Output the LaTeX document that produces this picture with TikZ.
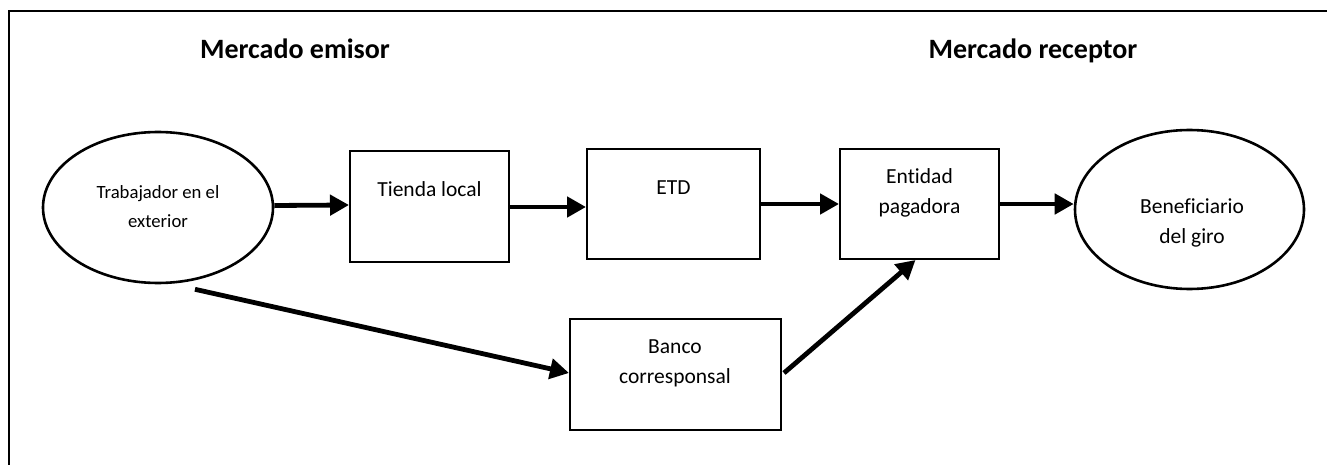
\documentclass[tikz,border=0pt]{standalone}
\usepackage{fontspec}
\setmainfont{Carlito}[Ligatures=NoCommon]
\usetikzlibrary{arrows.meta,calc,shapes.geometric}
\begin{document}
\begin{tikzpicture}[x=1pt,y=-1pt,
  stepbox/.style={draw,line width=2pt,inner sep=0pt,rectangle},
  oval/.style={draw,line width=2.6pt,inner sep=0pt,ellipse},
  flow/.style={line width=4.8pt,-{Triangle[length=19pt,width=20pt]}},
  txt/.style={anchor=base,inner sep=0pt,font=\fontsize{21.5}{26}\selectfont},
  smalltxt/.style={anchor=base,inner sep=0pt,font=\fontsize{18.7}{23}\selectfont},
  title/.style={anchor=base,inner sep=0pt,font=\fontsize{28}{32}\selectfont\bfseries}]
\useasboundingbox (0,0) rectangle (1327,465);
% frame
\draw[line width=2.5pt] (9,466) -- (9,11) -- (1328,11);
% titles
\node[title] (t1) at (295,59) {Mercado emisor};
\node[title] (t2) at (1033,59) {Mercado receptor};
% shapes
\node[oval,minimum width=230pt,minimum height=151pt] (e1) at (158,207.5) {};
\node[stepbox,minimum width=159pt,minimum height=111pt] (tienda) at (429.5,206.5) {};
\node[stepbox,minimum width=173pt,minimum height=110pt] (etd) at (673.5,204) {};
\node[stepbox,minimum width=159pt,minimum height=110pt] (entidad) at (919.5,204) {};
\node[stepbox,minimum width=211pt,minimum height=111pt] (banco) at (675.5,374.5) {};
\node[oval,minimum width=229pt,minimum height=159pt] (e2) at (1189.5,209.5) {};
% labels
\node[smalltxt] (l1a) at (158,199) {Trabajador en el};
\node[smalltxt] (l1b) at (158,227) {exterior};
\node[txt] (l2) at (429.5,196.7) {Tienda local};
\node[txt] (l3) at (673.5,195) {ETD};
\node[txt] (l4a) at (919.5,184) {Entidad};
\node[txt] (l4b) at (919.5,214) {pagadora};
\node[txt] (l5a) at (1192,213) {Beneficiario};
\node[txt] (l5b) at (1192,243) {del giro};
\node[txt] (l6a) at (675,353) {Banco};
\node[txt] (l6b) at (675,383) {corresponsal};
% connectors
\draw[flow] ($(e1.east)+(0,-2)$) -- ($(tienda.west)+(0,-1.5)$);
\draw[flow] ($(tienda.east)+(0,0.5)$) -- ($(etd.west)+(0,3)$);
\draw[flow] (etd.east) -- (entidad.west);
\draw[flow] (entidad.east) -- (entidad.east -| e2.west);
\draw[flow] ($(e1.south)+(37,5)$) -- ($(banco.west)+(0,-1.5)$);
\draw[flow] ($(banco.east)+(2,-1.5)$) -- ($(entidad.south)+(-4,0)$);
\end{tikzpicture}
\end{document}
